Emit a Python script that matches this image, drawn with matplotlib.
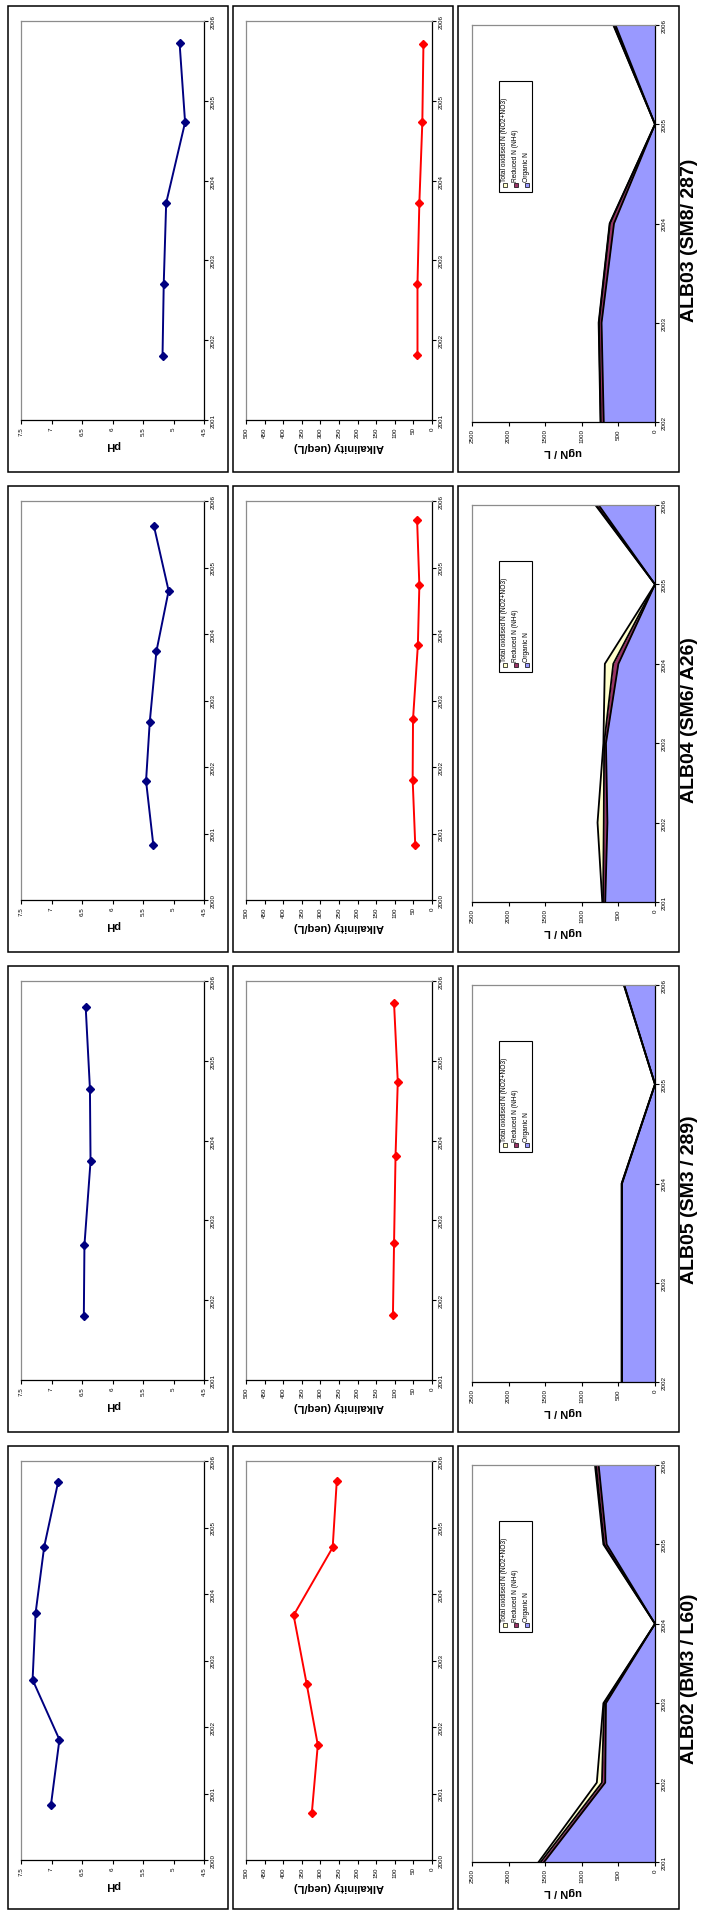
import matplotlib
matplotlib.use('Agg')
import matplotlib.pyplot as plt
from matplotlib.patches import Rectangle
from matplotlib.ticker import FuncFormatter

plt.rcParams['font.family'] = ['Liberation Sans', 'DejaVu Sans']

W, H = 710, 1915

# site labels, top to bottom
sites = ['ALB03 (SM8/ 287)', 'ALB04 (SM6/ A26)', 'ALB05 (SM3 / 289)', 'ALB02 (BM3 / L60)']

# pH (sample dates as decimal years)
ph_dates_alb03 = [2001.80, 2002.71, 2003.72, 2004.73, 2005.72]
ph_alb03 = [5.18, 5.16, 5.12, 4.81, 4.90]
ph_dates_alb04 = [2000.82, 2001.79, 2002.67, 2003.74, 2004.65, 2005.62]
ph_alb04 = [5.33, 5.45, 5.39, 5.28, 5.08, 5.32]
ph_dates_alb05 = [2001.80, 2002.69, 2003.74, 2004.65, 2005.68]
ph_alb05 = [6.47, 6.46, 6.36, 6.37, 6.44]
ph_dates_alb02 = [2000.82, 2001.81, 2002.71, 2003.72, 2004.71, 2005.69]
ph_alb02 = [7.01, 6.87, 7.31, 7.26, 7.12, 6.89]

# alkalinity (ueq/L)
alk_dates_alb03 = [2001.81, 2002.71, 2003.72, 2004.73, 2005.71]
alk_alb03 = [39, 39, 34, 26, 23]
alk_dates_alb04 = [2000.82, 2001.81, 2002.72, 2003.83, 2004.73, 2005.71]
alk_alb04 = [45, 52, 51, 38, 34, 40]
alk_dates_alb05 = [2001.82, 2002.72, 2003.81, 2004.74, 2005.72]
alk_alb05 = [105, 102, 98, 92, 102]
alk_dates_alb02 = [2000.71, 2001.73, 2002.65, 2003.68, 2004.70, 2005.70]
alk_alb02 = [323, 307, 337, 372, 267, 256]

# nitrogen fractions (ugN / L)
n_years_alb03 = [2002, 2003, 2004, 2005, 2006]
org_alb03 = [700, 730, 560, 0, 540]
red_alb03 = [40, 35, 55, 0, 25]
oxn_alb03 = [5, 5, 5, 0, 5]
n_years_alb04 = [2001, 2002, 2003, 2004, 2005, 2006]
org_alb04 = [680, 650, 670, 500, 0, 770]
red_alb04 = [30, 50, 25, 70, 0, 35]
oxn_alb04 = [10, 85, 10, 115, 0, 10]
n_years_alb05 = [2002, 2003, 2004, 2005, 2006]
org_alb05 = [450, 450, 450, 0, 420]
red_alb05 = [4, 4, 4, 0, 4]
oxn_alb05 = [2, 2, 2, 0, 2]
n_years_alb02 = [2001, 2002, 2003, 2004, 2005, 2006]
org_alb02 = [1515, 680, 670, 0, 660, 770]
red_alb02 = [45, 45, 25, 0, 35, 35]
oxn_alb02 = [30, 70, 10, 0, 10, 15]

# year ranges of the axes
ph_range = [(2001, 2006), (2000, 2006), (2001, 2006), (2000, 2006)]
n_range = [(2002, 2006), (2001, 2006), (2002, 2006), (2001, 2006)]

legend_labels = ['Total oxidised N (NO2+NO3)', 'Reduced N (NH4)', 'Organic N']
n_colors = ['#FFFFCC', '#993366', '#9999FF']

ph_sets = [(ph_dates_alb03, ph_alb03), (ph_dates_alb04, ph_alb04),
           (ph_dates_alb05, ph_alb05), (ph_dates_alb02, ph_alb02)]
alk_sets = [(alk_dates_alb03, alk_alb03), (alk_dates_alb04, alk_alb04),
            (alk_dates_alb05, alk_alb05), (alk_dates_alb02, alk_alb02)]
n_sets = [(n_years_alb03, org_alb03, red_alb03, oxn_alb03),
          (n_years_alb04, org_alb04, red_alb04, oxn_alb04),
          (n_years_alb05, org_alb05, red_alb05, oxn_alb05),
          (n_years_alb02, org_alb02, red_alb02, oxn_alb02)]

fig = plt.figure(figsize=(W / 100, H / 100), dpi=100)


def px_rect(x0, y0, x1, y1):
    return [x0 / W, 1 - y1 / H, (x1 - x0) / W, (y1 - y0) / H]


def box(x0, y0, x1, y1):
    fig.add_artist(Rectangle((x0 / W, 1 - y1 / H), (x1 - x0) / W, (y1 - y0) / H,
                             transform=fig.transFigure, fill=False,
                             edgecolor='black', lw=1.1))


def style(ax, yrange, xlim, xticks, xlabel):
    ax.set_xlim(*xlim)
    ax.set_xticks(xticks)
    ax.xaxis.set_major_formatter(FuncFormatter(lambda v, p: f'{v:g}'))
    ax.set_ylim(*yrange)
    ax.set_yticks(range(yrange[0], yrange[1] + 1))
    ax.yaxis.tick_right()
    ax.tick_params(axis='both', labelsize=4.5, length=3, width=0.8,
                   direction='out', pad=1.5, labelrotation=90)
    for t in ax.get_yticklabels():
        t.set_va('center')
    for s in ['top', 'left']:
        ax.spines[s].set_color('#8c8c8c')
        ax.spines[s].set_linewidth(0.9)
    for s in ['bottom', 'right']:
        ax.spines[s].set_color('black')
        ax.spines[s].set_linewidth(0.9)
    ax.set_xlabel(xlabel, rotation=180, fontsize=8, fontweight='bold', labelpad=3)


tops = [7, 487, 967, 1447]
for i, top in enumerate(tops):
    bot = top + 466 if i < 3 else top + 463
    # outer boxes
    box(8, top, 228, bot)
    box(233, top, 453, bot)
    box(458, top, 679, bot)

    # pH
    ax = fig.add_axes(px_rect(21, top + 15, 204, top + 414))
    d, v = ph_sets[i]
    ax.plot(v, d, color='#000080', marker='D', markersize=4, lw=1.4)
    style(ax, ph_range[i], (7.5, 4.5), [7.5, 7, 6.5, 6, 5.5, 5, 4.5], 'pH')

    # alkalinity
    ax = fig.add_axes(px_rect(246, top + 15, 432, top + 414))
    d, v = alk_sets[i]
    ax.plot(v, d, color='#FF0000', marker='D', markersize=4, lw=1.4)
    style(ax, ph_range[i], (500, 0), list(range(500, -1, -50)), 'Alkalinity (ueq/L)')

    # nitrogen stacked area
    ax = fig.add_axes(px_rect(472, top + 19, 655, top + 416))
    yrs, org, red, oxn = n_sets[i]
    c1 = org
    c2 = [a + b for a, b in zip(org, red)]
    c3 = [a + b for a, b in zip(c2, oxn)]
    ax.fill_betweenx(yrs, 0, c1, color=n_colors[2], lw=0)
    ax.fill_betweenx(yrs, c1, c2, color=n_colors[1], lw=0)
    ax.fill_betweenx(yrs, c2, c3, color=n_colors[0], lw=0)
    for c in (c1, c2, c3):
        ax.plot(c, yrs, color='black', lw=1.3)
    style(ax, n_range[i], (2500, 0), [2500, 2000, 1500, 1000, 500, 0], 'ugN / L')

    # legend drawn by hand so it can be turned with the page
    lx0, lx1, ly0, ly1 = 0.15, 0.33, 0.58, 0.86
    ax.add_patch(Rectangle((lx0, ly0), lx1 - lx0, ly1 - ly0, transform=ax.transAxes,
                           facecolor='white', edgecolor='black', lw=0.8, zorder=5))
    for k, (lab, col) in enumerate(zip(legend_labels, n_colors)):
        cx = lx0 + (lx1 - lx0) * (2 * k + 1) / 6
        ax.add_patch(Rectangle((cx - 0.011, ly0 + 0.012), 0.022, 0.010,
                               transform=ax.transAxes, facecolor=col,
                               edgecolor='black', lw=0.5, zorder=6))
        ax.text(cx, ly0 + 0.026, lab, rotation=90, ha='center', va='bottom',
                fontsize=4.8, transform=ax.transAxes, zorder=6)

    # site label
    fig.text(690 / W, 1 - (top + bot) / 2 / H, sites[i], rotation=90,
             ha='center', va='center', fontsize=14, fontweight='bold')

fig.savefig('out.png', dpi=100, facecolor='white')
